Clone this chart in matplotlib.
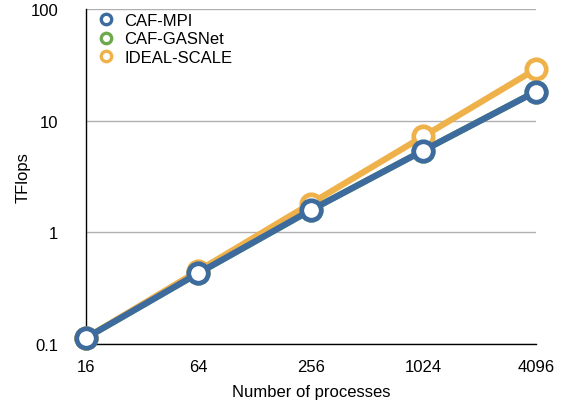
import numpy as np
import matplotlib.pyplot as plt
from matplotlib.lines import Line2D

plt.rcParams['font.family'] = ['Liberation Sans', 'DejaVu Sans']

procs = [16, 64, 256, 1024, 4096]
caf_mpi = [0.113, 0.43, 1.58, 5.4, 18.2]
caf_gasnet = [0.113, 0.43, 1.58, 5.4, 18.2]
ideal = [0.113, 0.452, 1.81, 7.23, 28.9]

blue = "#3d6b9e"
green = "#6ea84d"
orange = "#efb24a"

fig = plt.figure(figsize=(5.61, 4.02), dpi=100)
ax = fig.add_axes([0.153, 0.142, 0.802, 0.833])

x = np.arange(len(procs))
style = dict(lw=4.5, marker="o", markersize=14, markeredgewidth=3.4,
             markerfacecolor="white", clip_on=False)
ax.plot(x, caf_gasnet, color=green, zorder=3, **style)
ax.plot(x, ideal, color=orange, zorder=4, **style)
ax.plot(x, caf_mpi, color=blue, zorder=5, **style)

ax.set_yscale("log")
ax.set_ylim(0.1, 100)
ax.set_xlim(0, len(procs) - 1)
ax.set_xticks(x)
ax.set_xticklabels([str(p) for p in procs])
ax.set_yticks([0.1, 1, 10, 100])
ax.set_yticklabels(["0.1", "1", "10", "100"])
ax.yaxis.set_minor_locator(plt.NullLocator())
ax.tick_params(length=0, labelsize=12)
ax.tick_params(axis="x", pad=11)
ax.tick_params(axis="y", pad=20)

ax.grid(axis="y", color="#b0b0b0", lw=1)
ax.set_axisbelow(True)
for s in ["top", "right"]:
    ax.spines[s].set_visible(False)
for s in ["left", "bottom"]:
    ax.spines[s].set_color("black")
    ax.spines[s].set_linewidth(1)

ax.set_xlabel("Number of processes", fontsize=12, labelpad=7)
ax.set_ylabel("TFlops", fontsize=12, labelpad=0)

handles = [Line2D([], [], ls="none", marker="o", markersize=7.5, markeredgewidth=2.4,
                  markerfacecolor="white", color=c) for c in (blue, green, orange)]
ax.legend(handles, ["CAF-MPI", "CAF-GASNet", "IDEAL-SCALE"], loc="upper left",
          frameon=False, fontsize=12, handlelength=1.0, handletextpad=0.6,
          labelspacing=0.2, borderaxespad=0.0, bbox_to_anchor=(0.011, 1.008))

fig.savefig("out.png", dpi=100)
